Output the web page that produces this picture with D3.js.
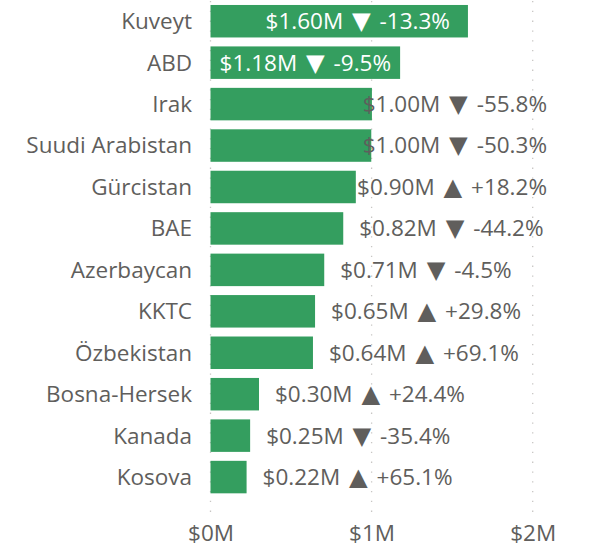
<!DOCTYPE html>
<html><head><meta charset="utf-8">
<script src="https://cdn.jsdelivr.net/npm/d3@7"></script>
<style>
html,body{margin:0;padding:0;background:#fff;}
svg text{font-family:"Open Sans","Noto Sans",sans-serif;}
</style></head>
<body>
<svg id="chart" width="591" height="547"></svg>
<script>
const categories = ["Kuveyt","ABD","Irak","Suudi Arabistan","Gürcistan","BAE","Azerbaycan","KKTC","Özbekistan","Bosna-Hersek","Kanada","Kosova"];
const values = [1.598, 1.177, 1.002, 0.998, 0.902, 0.824, 0.706, 0.649, 0.636, 0.301, 0.246, 0.224];
const changes = [-13.3, -9.5, -55.8, -50.3, 18.2, -44.2, -4.5, 29.8, 69.1, 24.4, -35.4, 65.1];
const tickValues = [0, 1, 2];
const tickLabels = ["$0M","$1M","$2M"];

const svg = d3.select("#chart");
const FS = 22.5;
const textColor = "#605E5C";
const barColor = "#349E5F";

const x = d3.scaleLinear().domain([0, 2]).range([210.5, 532.7]);
const y = d3.scaleBand().domain(categories).range([0.5, 497.8]).paddingInner(0.216).paddingOuter(0.108);

// gridlines
svg.append("g").selectAll("line").data(tickValues).join("line")
  .attr("x1", d => x(d)).attr("x2", d => x(d))
  .attr("y1", 1).attr("y2", 512)
  .attr("stroke", "#c8c6c4").attr("stroke-width", 1.3)
  .attr("stroke-dasharray", "1.3,8.5");

// axis
const axis = d3.axisBottom(x).tickValues(tickValues).tickFormat((d,i) => tickLabels[i]).tickSize(0).tickPadding(0);
const ag = svg.append("g").attr("transform", "translate(0,541)").call(axis);
ag.select(".domain").remove();
ag.selectAll("text").attr("font-size", FS).attr("fill", textColor)
  .attr("font-family", '"Open Sans","Noto Sans",sans-serif').attr("dy", "0").attr("y", 0);

// category labels
svg.append("g").selectAll("text").data(categories).join("text")
  .attr("x", 192).attr("y", d => y(d) + y.bandwidth()/2)
  .attr("dy", "0.35em").attr("text-anchor", "end")
  .attr("font-size", FS).attr("fill", textColor).text(d => d);

// bars
svg.append("g").selectAll("rect").data(categories).join("rect")
  .attr("x", x(0)).attr("y", d => y(d))
  .attr("width", (d,i) => x(values[i]) - x(0))
  .attr("height", y.bandwidth()).attr("fill", barColor);

// value labels
const lg = svg.append("g");
categories.forEach((cat, i) => {
  const c = changes[i];
  const t = lg.append("text")
    .attr("y", y(cat) + y.bandwidth()/2).attr("dy", "0.35em")
    .attr("font-size", FS);
  t.append("tspan").text("$" + values[i].toFixed(2) + "M ");
  t.append("tspan").attr("dx", 3).attr("font-family", '"DejaVu Sans"').attr("font-size", FS * 1.08)
    .text(c < 0 ? "\u25BC" : "\u25B2");
  t.append("tspan").attr("dx", 3).text(" " + (c < 0 ? "" : "+") + c.toFixed(1) + "%");
  const w = t.node().getComputedTextLength() + 6;
  const x0 = x(0), x1 = x(values[i]);
  const bw = x1 - x0;
  if (w + 10 < bw) {
    const pad = Math.min(18, (bw - w) / 2);
    t.attr("x", x1 - pad - w).attr("fill", "#ffffff");
  } else {
    t.attr("x", Math.min(x1 + 16, 547 - w)).attr("fill", textColor);
  }
});
</script>
</body></html>
